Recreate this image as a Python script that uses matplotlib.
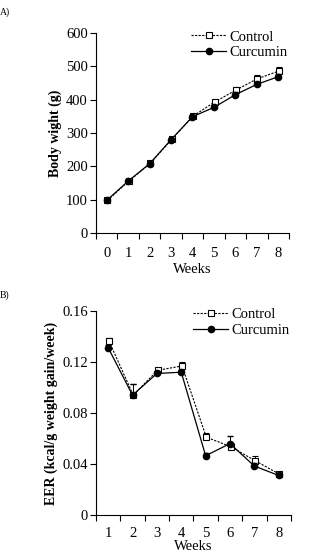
import matplotlib
matplotlib.use("Agg")
import matplotlib.pyplot as plt
from matplotlib.lines import Line2D
import numpy as np

plt.rcParams['font.family'] = ['Liberation Serif', 'DejaVu Serif']

# Panel A data
weeks_a = [0, 1, 2, 3, 4, 5, 6, 7, 8]
bw_control = [98, 156, 209, 281, 351, 393, 429, 463, 486]
bw_control_err = [3, 4, 5, 5, 6, 7, 8, 10, 11]
bw_curcumin = [98, 156, 208, 280, 349, 377, 415, 446, 469]
bw_curcumin_err = [3, 4, 5, 5, 6, 6, 7, 8, 9]

# Panel B data
weeks_b = [1, 2, 3, 4, 5, 6, 7, 8]
eer_control = [0.1365, 0.094, 0.1135, 0.1169, 0.061, 0.0536, 0.0426, 0.032]
eer_control_err = [0.002, 0.009, 0.002, 0.003, 0.003, 0.003, 0.004, 0.002]
eer_curcumin = [0.1312, 0.094, 0.111, 0.112, 0.0465, 0.056, 0.0384, 0.031]
eer_curcumin_err = [0.002, 0.009, 0.002, 0.002, 0.002, 0.006, 0.002, 0.001]

fig = plt.figure(figsize=(3.2, 5.55), dpi=100)

FS = 10.5
CTRL_LS = (0, (2, 1.2))

def style(ax, cats, ymin, ymax, yticks, yticklabels, xpad, lpad):
    n = len(cats)
    ax.set_xlim(-0.5, n - 0.5)
    ax.set_ylim(ymin, ymax)
    ax.spines['top'].set_visible(False)
    ax.spines['right'].set_visible(False)
    ax.set_xticks(range(n))
    ax.set_xticklabels([str(c) for c in cats], fontsize=FS)
    ax.set_xticks(np.arange(-0.5, n, 1.0), minor=True)
    ax.tick_params(axis='x', which='major', length=0, pad=xpad)
    ax.tick_params(axis='x', which='minor', length=4, width=0.8, direction='out')
    ax.set_yticks(yticks)
    ax.set_yticklabels(yticklabels, fontsize=FS)
    ax.tick_params(axis='y', length=4, width=0.8, direction='out', pad=2)
    for s in ['left', 'bottom']:
        ax.spines[s].set_linewidth(0.8)
    ax.set_xlabel('Weeks', fontsize=FS, labelpad=lpad)

def draw(ax, cats, ctrl, ctrl_err, cur, cur_err):
    x = np.arange(len(cats))
    ax.errorbar(x, cur, yerr=[np.zeros(len(cur)), cur_err], color='black', lw=0.9,
                marker='o', ms=4.5, mfc='black', mec='black', capsize=2, elinewidth=0.7,
                zorder=3)
    ax.errorbar(x + 0.03, ctrl, yerr=[np.zeros(len(ctrl)), ctrl_err], color='black', lw=0.8,
                ls=CTRL_LS, marker='s', ms=4.5, mfc='white', mec='black', mew=0.8,
                capsize=2, elinewidth=0.7, zorder=2)
    hc = Line2D([], [], color='black', lw=0.8, ls=CTRL_LS, marker='s', ms=4.5,
                mfc='white', mec='black', mew=0.8)
    hk = Line2D([], [], color='black', lw=0.9, marker='o', ms=4.5, mfc='black', mec='black')
    ax.legend([hc, hk], ['Control', 'Curcumin'], loc='upper right', bbox_to_anchor=(1.03, 1.05),
              frameon=False, fontsize=FS, handlelength=2.4, handletextpad=0.2,
              labelspacing=0.15, borderaxespad=0.1)

axA = fig.add_axes([0.30, 0.580, 0.603, 0.3605])
draw(axA, weeks_a, bw_control, bw_control_err, bw_curcumin, bw_curcumin_err)
style(axA, weeks_a, 0, 600, [0, 100, 200, 300, 400, 500, 600],
      ['0', '100', '200', '300', '400', '500', '600'], 10, 2)
axA.set_ylabel('Body wight (g)', fontsize=10, fontweight='bold', labelpad=3)

axB = fig.add_axes([0.30, 0.0721, 0.609, 0.3675])
draw(axB, weeks_b, eer_control, eer_control_err, eer_curcumin, eer_curcumin_err)
style(axB, weeks_b, 0, 0.16, [0, 0.04, 0.08, 0.12, 0.16],
      ['0', '0.04', '0.08', '0.12', '0.16'], 9, 0)
axB.set_ylabel('EER (kcal/g weight gain/week)', fontsize=10, fontweight='bold', labelpad=3)

fig.text(0.0, 0.978, 'A)', fontsize=7, ha='left', va='center')
fig.text(0.0, 0.468, 'B)', fontsize=7, ha='left', va='center')

fig.savefig('out.png', dpi=100)
